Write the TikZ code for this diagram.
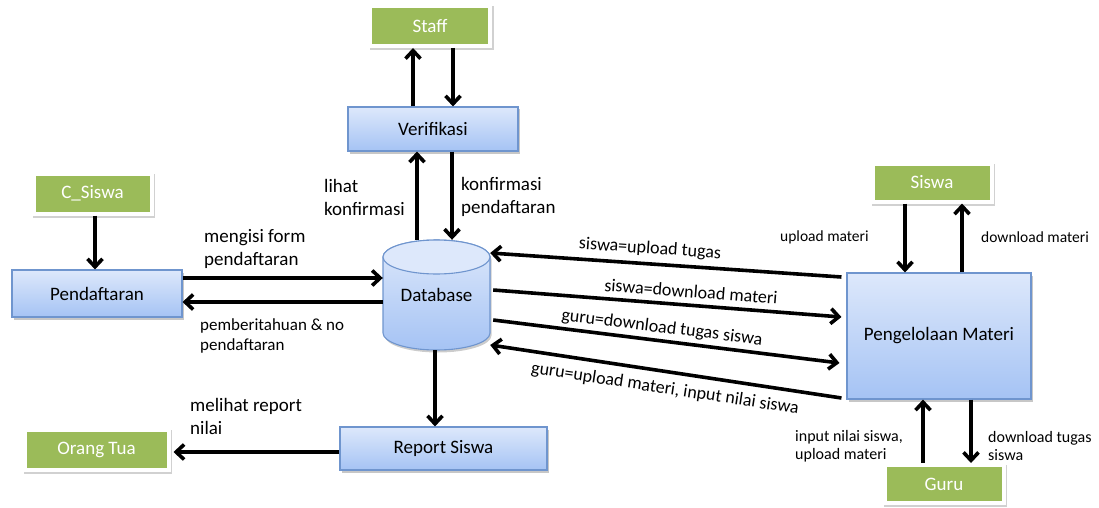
\documentclass[tikz,border=0pt]{standalone}
\usepackage{fontspec}
\setmainfont{Carlito}
\usetikzlibrary{arrows.meta,shadows}

\definecolor{boxtop}{HTML}{DDE8FB}
\definecolor{boxbot}{HTML}{A5C3F4}
\definecolor{boxedge}{HTML}{6F95CE}
\definecolor{entgreen}{HTML}{9BBB59}

\tikzset{
  procbox/.style={draw=boxedge, line width=1.1pt, top color=boxtop, bottom color=boxbot,
    font=\fontsize{19}{22}\selectfont, text=black,
    general shadow={fill=black!22, shadow xshift=1.5pt, shadow yshift=-2.5pt}},
  entity/.style={fill=entgreen, draw=white, line width=4pt, text=white,
    font=\fontsize{19}{22}\selectfont,
    general shadow={fill=black!18, draw=black!18, shadow xshift=1.5pt, shadow yshift=-2pt}},
  flow/.style={line width=3.6pt, -{Straight Barb[length=8pt,width=15pt]}},
  lbl/.style={font=\fontsize{19}{23}\selectfont, align=left, inner sep=0pt, anchor=west},
  lblsmall/.style={font=\fontsize{16}{18}\selectfont, align=left, inner sep=0pt, anchor=west},
  lblslant/.style={font=\fontsize{18}{22}\selectfont, inner sep=0pt},
}

\begin{document}
\begin{tikzpicture}[x=1pt,y=-1pt]
\useasboundingbox (0,0) rectangle (1099,508);

% external entities
\node[entity, minimum width=120, minimum height=40] (staff) at (430,26) {Staff};
\node[entity, minimum width=118, minimum height=40] (csiswa) at (92.5,193.5) {C\_Siswa};
\node[entity, minimum width=119, minimum height=38] (siswa) at (932,182.5) {Siswa};
\node[entity, minimum width=119, minimum height=38] (guru) at (944,484) {Guru};
\node[entity, minimum width=144, minimum height=40] (ortu) at (96.5,450) {Orang Tua};

% processes
\node[procbox, minimum width=170, minimum height=44] (verif) at (433,129) {Verifikasi};
\node[procbox, minimum width=170, minimum height=47] (pend) at (97,293.5) {Pendaftaran};
\node[procbox, minimum width=207, minimum height=43] (report) at (443.5,448.5) {Report Siswa};
\node[procbox, minimum width=184, minimum height=126] (pm) at (939,336) {Pengelolaan Materi};

% data store: cylinder
\path[general shadow={fill=black!20, shadow xshift=1.5pt, shadow yshift=-2.5pt}]
  (383,257) -- (383,333) arc[start angle=180, end angle=0, x radius=53.5, y radius=17]
  -- (490,257) arc[start angle=0, end angle=-180, x radius=53.5, y radius=17] -- cycle;
\draw[draw=boxedge, line width=1.1pt, top color=boxtop, bottom color=boxbot]
  (383,257) -- (383,333) arc[start angle=180, end angle=0, x radius=53.5, y radius=17]
  -- (490,257) arc[start angle=0, end angle=-180, x radius=53.5, y radius=17] -- cycle;
\draw[draw=boxedge, line width=1.1pt, fill=boxtop] (436.5,257) ellipse[x radius=53.5, y radius=17];
\node[font=\fontsize{19}{22}\selectfont, minimum width=107, minimum height=110, inner sep=0pt] (db) at (436.5,295) {Database};

% Staff <-> Verifikasi
\draw[flow] ([xshift=-20pt]verif.north) -- ([xshift=-17pt]staff.south);
\draw[flow] ([xshift=23pt]staff.south) -- ([xshift=20pt]verif.north);

% Verifikasi <-> Database
\draw[flow] ([xshift=-19.5pt]db.north) -- ([xshift=-16pt]verif.south);
\draw[flow] ([xshift=19pt]verif.south) -- ([xshift=15.5pt]db.north);
\node[lbl] (lblLihat) at (324,197) {lihat\\konfirmasi};
\node[lbl] (lblKonf) at (461,197) {konfirmasi\\pendaftaran};

% C_Siswa -> Pendaftaran
\draw[flow] ([xshift=2.5pt]csiswa.south) -- ([xshift=-2pt]pend.north);

% Pendaftaran <-> Database
\draw[flow] ([yshift=15.5pt]pend.east) -- ([yshift=17pt]db.west);
\draw[flow] ([yshift=-7pt]db.west) -- ([yshift=-8.5pt]pend.east);
\node[lbl] (lblIsi) at (204,249) {mengisi form\\pendaftaran};
\node[lbl, font=\fontsize{17}{20}\selectfont] (lblInfo) at (200,336) {pemberitahuan \& no\\pendaftaran};

% Database -> Report Siswa -> Orang Tua
\draw[flow] ([xshift=-1.5pt]db.south) -- ([xshift=-8.5pt]report.north);
\draw[flow] ([yshift=-3.5pt]report.west) -- ([yshift=-2pt,xshift=3pt]ortu.east);
\node[lbl] (lblReport) at (190,416) {melihat report\\nilai};

% Database <-> Pengelolaan Materi
\draw[flow] ([xshift=-5pt,yshift=59pt]pm.west) -- ([yshift=42pt]db.east);
\draw[flow] ([xshift=3pt,yshift=5pt]db.east) -- ([xshift=-5pt,yshift=19pt]pm.west);
\draw[flow] ([xshift=3pt,yshift=-25pt]db.east) -- ([xshift=-7pt,yshift=-27pt]pm.west);
\draw[flow] ([xshift=-5pt,yshift=-62pt]pm.west) -- ([yshift=-50pt]db.east);
\node[lblslant, rotate=-3.9] (lblS1) at (650,249) {siswa=upload tugas};
\node[lblslant, rotate=-4.4] (lblS2) at (691,291.5) {siswa=download materi};
\node[lblslant, rotate=-7.1] (lblS3) at (662,328) {guru=download tugas siswa};
\node[lblslant, rotate=-8.7] (lblS4) at (665,389) {guru=upload materi, input nilai siswa};

% Siswa <-> Pengelolaan Materi
\draw[flow] ([xshift=-27pt]siswa.south) -- ([xshift=-34pt]pm.north);
\draw[flow] ([xshift=23pt]pm.north) -- ([xshift=30pt]siswa.south);
\node[lblsmall, font=\fontsize{15.5}{18}\selectfont] (lblUp) at (780,237) {upload materi};
\node[lblsmall, font=\fontsize{15.5}{18}\selectfont] (lblDown) at (981,237) {download materi};

% Guru <-> Pengelolaan Materi
\draw[flow] ([xshift=-21pt]guru.north) -- ([xshift=-16pt]pm.south);
\draw[flow] ([xshift=32pt]pm.south) -- ([xshift=27pt]guru.north);
\node[lblsmall] (lblInput) at (795,446) {input nilai siswa,\\upload materi};
\node[lblsmall] (lblTugas) at (988,446) {download tugas\\siswa};
\end{tikzpicture}
\end{document}
